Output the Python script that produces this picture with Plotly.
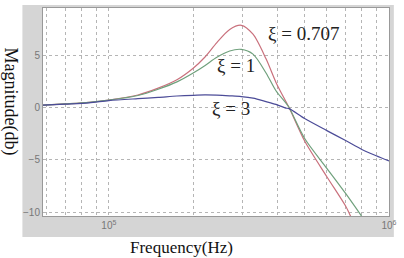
import math
import plotly.graph_objects as go

# Frequencies (Hz) and magnitudes (dB)
freq_a = [5.8e4, 7e4, 8.5e4, 1e5, 1.27e5, 1.5e5, 1.75e5, 2e5, 2.2e5, 2.43e5, 2.7e5,
          2.97e5, 3.27e5, 3.64e5, 3.95e5, 4.28e5, 4.4e5, 5e5, 6e5, 7e5, 7.3e5]
mag_0707 = [0.22, 0.35, 0.5, 0.72, 1.2, 1.85, 2.65, 3.75, 4.8, 6.2, 7.45,
            7.85, 7.0, 4.65, 2.4, 0.6, 0.0, -3.2, -6.6, -9.4, -10.4]

freq_b = [5.8e4, 7e4, 8.5e4, 1e5, 1.27e5, 1.5e5, 1.75e5, 2e5, 2.2e5, 2.43e5, 2.7e5,
          2.97e5, 3.27e5, 3.64e5, 3.95e5, 4.28e5, 4.4e5, 5e5, 6e5, 7e5, 8e5]
mag_1 = [0.22, 0.35, 0.5, 0.7, 1.15, 1.75, 2.45, 3.3, 4.0, 4.8, 5.4,
         5.55, 5.1, 3.3, 1.6, 0.45, 0.0, -2.95, -5.8, -8.2, -10.4]

freq_c = [5.8e4, 7e4, 8.5e4, 1e5, 1.27e5, 1.5e5, 1.75e5, 2e5, 2.2e5, 2.43e5, 2.7e5,
          2.97e5, 3.27e5, 3.64e5, 3.95e5, 4.28e5, 4.4e5, 5e5, 6e5, 7e5, 8e5, 9e5, 1e6]
mag_3 = [0.22, 0.33, 0.45, 0.66, 0.85, 0.97, 1.1, 1.17, 1.2, 1.18, 1.12,
         1.05, 0.9, 0.57, 0.3, -0.05, -0.1, -1.05, -2.2, -3.15, -4.0, -4.6, -5.1]

x_major = [1e5, 1e6]
x_major_text = ["10<sup>5</sup>", "10<sup>6</sup>"]
x_minor = [6e4, 7e4, 8e4, 9e4, 2e5, 3e5, 4e5, 5e5, 6e5, 7e5, 8e5, 9e5]
y_ticks = [-10, -5, 0, 5]

labels = ["ξ = 0.707", "ξ = 1", "ξ = 3"]
label_x = [4.95e5, 2.85e5, 2.72e5]
label_y = [7.1, 4.0, -0.1]

fig = go.Figure()
fig.add_trace(go.Scatter(x=freq_a, y=mag_0707, mode="lines",
                         line=dict(color="#c9707c", width=1.2, shape="spline", smoothing=0.8),
                         showlegend=False))
fig.add_trace(go.Scatter(x=freq_b, y=mag_1, mode="lines",
                         line=dict(color="#6fa07c", width=1.2, shape="spline", smoothing=0.8),
                         showlegend=False))
fig.add_trace(go.Scatter(x=freq_c, y=mag_3, mode="lines",
                         line=dict(color="#4c4c98", width=1.2, shape="spline", smoothing=0.8),
                         showlegend=False))

for t, lx, ly in zip(labels, label_x, label_y):
    fig.add_annotation(x=math.log10(lx), y=ly, text=t, showarrow=False,
                       font=dict(family="Liberation Serif", size=19, color="#222222"),
                       xanchor="center", yanchor="middle")

# axis titles
fig.add_annotation(x=0.4, y=-0.15, xref="paper", yref="paper", text="Frequency(Hz)",
                   showarrow=False, xanchor="center", yanchor="middle",
                   font=dict(family="Liberation Serif", size=17, color="#111111"))
fig.add_annotation(x=-0.095, y=0.55, xref="paper", yref="paper", text="Magnitude(db)",
                   showarrow=False, xanchor="center", yanchor="middle", textangle=90,
                   font=dict(family="Liberation Serif", size=18, color="#111111"))

# gray frame and white plot area
fig.add_shape(type="rect", xref="paper", yref="paper", x0=-0.0595, x1=1.014,
              y0=-0.1005, y1=1.0144, fillcolor="#d5d5d5", line=dict(width=0), layer="below")
fig.add_shape(type="rect", xref="paper", yref="paper", x0=0, x1=1, y0=0, y1=1,
              fillcolor="white", line=dict(width=0), layer="below")

fig.update_layout(
    width=404, height=258,
    margin=dict(l=43, r=8, t=7, b=42),
    paper_bgcolor="white", plot_bgcolor="white",
    font=dict(family="Liberation Sans", size=9, color="#777777"),
)
fig.update_xaxes(type="log", range=[4.765, 6.0], tickmode="array",
                 tickvals=x_major, ticktext=x_major_text,
                 showgrid=True, gridcolor="#b5b5b5", griddash="dot", gridwidth=1,
                 minor=dict(tickmode="array", tickvals=x_minor, showgrid=True,
                            gridcolor="#b5b5b5", griddash="dot", gridwidth=1),
                 showline=True, linecolor="#999999", linewidth=1, mirror=True,
                 zeroline=False, ticks="", tickfont=dict(size=10, color="#777777"))
fig.update_yaxes(range=[-10.35, 9.5], tickmode="array", tickvals=y_ticks,
                 showgrid=True, gridcolor="#b5b5b5", griddash="dot", gridwidth=1,
                 showline=True, linecolor="#999999", linewidth=1, mirror=True,
                 zeroline=False, ticks="", tickfont=dict(size=10, color="#777777"))

fig.write_html("out.html")
